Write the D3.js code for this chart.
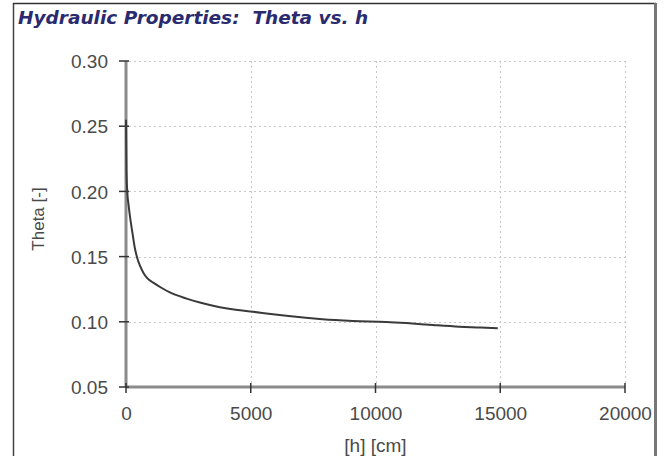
<!DOCTYPE html>
<html>
<head>
<meta charset="utf-8">
<script src="https://cdn.jsdelivr.net/npm/d3@7"></script>
<style>
  html, body { margin: 0; padding: 0; background: #fff; }
  svg { display: block; }
  text { white-space: pre; }
</style>
</head>
<body>
<svg id="chart" width="665" height="456"></svg>
<script>
// Water retention curve: volumetric water content vs. pressure head
const pressureHead = [0, 20, 50, 100, 180, 260, 360, 450, 560, 700, 850, 1093, 1400, 1760, 2427, 3000, 3760, 4400, 5093, 5800, 6427, 7100, 7760, 8400, 9093, 10427, 11240, 12300, 13360, 14200, 14900];
const theta        = [0.255, 0.215, 0.200, 0.190, 0.178, 0.168, 0.156, 0.149, 0.143, 0.1375, 0.1335, 0.1300, 0.1263, 0.1225, 0.1178, 0.1146, 0.1112, 0.1092, 0.1077, 0.1060, 0.1046, 0.1033, 0.1022, 0.1013, 0.1006, 0.0999, 0.0990, 0.0975, 0.0962, 0.0956, 0.0950];
const xTicks = [0, 5000, 10000, 15000, 20000];
const yTicks = [0.05, 0.10, 0.15, 0.20, 0.25, 0.30];

const svg = d3.select("#chart");
const font = "Liberation Sans, Arial, sans-serif";

// Outer panel frame
svg.append("line").attr("x1", 13.5).attr("y1", 3).attr("x2", 13.5).attr("y2", 456)
  .attr("stroke", "#444").attr("stroke-width", 1.5);
svg.append("line").attr("x1", 13).attr("y1", 3.5).attr("x2", 656).attr("y2", 3.5)
  .attr("stroke", "#333").attr("stroke-width", 1.5);
svg.append("line").attr("x1", 655.5).attr("y1", 3).attr("x2", 655.5).attr("y2", 456)
  .attr("stroke", "#777").attr("stroke-width", 3);

// Title
svg.append("text")
  .attr("x", 18).attr("y", 24)
  .attr("font-family", "DejaVu Sans, Verdana, sans-serif")
  .attr("font-weight", "bold").attr("font-style", "italic")
  .attr("font-size", 18.5)
  .attr("fill", "#2a2a6e")
  .text("Hydraulic Properties:  Theta vs. h");

const x = d3.scaleLinear().domain([0, 20000]).range([126, 625]);
const y = d3.scaleLinear().domain([0.05, 0.30]).range([387, 61]);

// Dotted grid
const grid = svg.append("g").attr("stroke", "#c8c8c8").attr("stroke-width", 1)
  .attr("stroke-dasharray", "2,3");
grid.selectAll("line.h").data(yTicks.filter(t => t > 0.05)).join("line")
  .attr("x1", x(0) + 3).attr("x2", x(20000))
  .attr("y1", d => Math.round(y(d)) + 0.5).attr("y2", d => Math.round(y(d)) + 0.5);
grid.selectAll("line.v").data(xTicks.filter(t => t > 0)).join("line")
  .attr("y1", y(0.30)).attr("y2", y(0.05) - 2)
  .attr("x1", d => Math.round(x(d)) + 0.5).attr("x2", d => Math.round(x(d)) + 0.5);

// Axes
const xAxis = svg.append("g").attr("transform", `translate(0,${y(0.05)})`)
  .call(d3.axisBottom(x).tickValues(xTicks).tickFormat(d3.format("d")).tickSize(0).tickPadding(20));
const yAxis = svg.append("g").attr("transform", `translate(${x(0)},0)`)
  .call(d3.axisLeft(y).tickValues(yTicks).tickFormat(d3.format(".2f")).tickSize(0).tickPadding(18));

[xAxis, yAxis].forEach(g => {
  g.select(".domain").attr("stroke", "#8a8a8a").attr("stroke-width", 3);
  g.selectAll("text").attr("font-family", font).attr("font-size", 19).attr("fill", "#4a4a4a");
});
yAxis.selectAll("text").attr("dy", "0.35em");
yAxis.select(".domain").attr("d", `M0,${y(0.30)}V${y(0.05)}`);
xAxis.select(".domain").attr("d", `M${x(0)},0H${x(20000)}`);

// Tick marks crossing the axis lines
svg.append("g").selectAll("line").data(yTicks).join("line")
  .attr("x1", x(0) - 7).attr("x2", x(0) + 3)
  .attr("y1", d => y(d)).attr("y2", d => y(d))
  .attr("stroke", "#333").attr("stroke-width", 1.5);
svg.append("g").selectAll("line").data(xTicks).join("line")
  .attr("y1", y(0.05) - 4).attr("y2", y(0.05) + 6)
  .attr("x1", d => x(d)).attr("x2", d => x(d))
  .attr("stroke", "#333").attr("stroke-width", 1.5);

// Axis titles
svg.append("text")
  .attr("x", x(10000)).attr("y", 452)
  .attr("text-anchor", "middle")
  .attr("font-family", font).attr("font-size", 19).attr("fill", "#4a4a4a")
  .text("[h] [cm]");
svg.append("text")
  .attr("transform", "translate(44,219) rotate(-90)")
  .attr("text-anchor", "middle")
  .attr("font-family", font).attr("font-size", 17).attr("fill", "#4a4a4a")
  .text("Theta [-]");

// Retention curve
const pts = pressureHead.map((h, i) => [h, theta[i]]);
svg.append("path")
  .datum(pts)
  .attr("fill", "none")
  .attr("stroke", "#3a3a3a")
  .attr("stroke-width", 2)
  .attr("d", d3.line().x(d => x(d[0])).y(d => y(d[1])).curve(d3.curveMonotoneX));
</script>
</body>
</html>
